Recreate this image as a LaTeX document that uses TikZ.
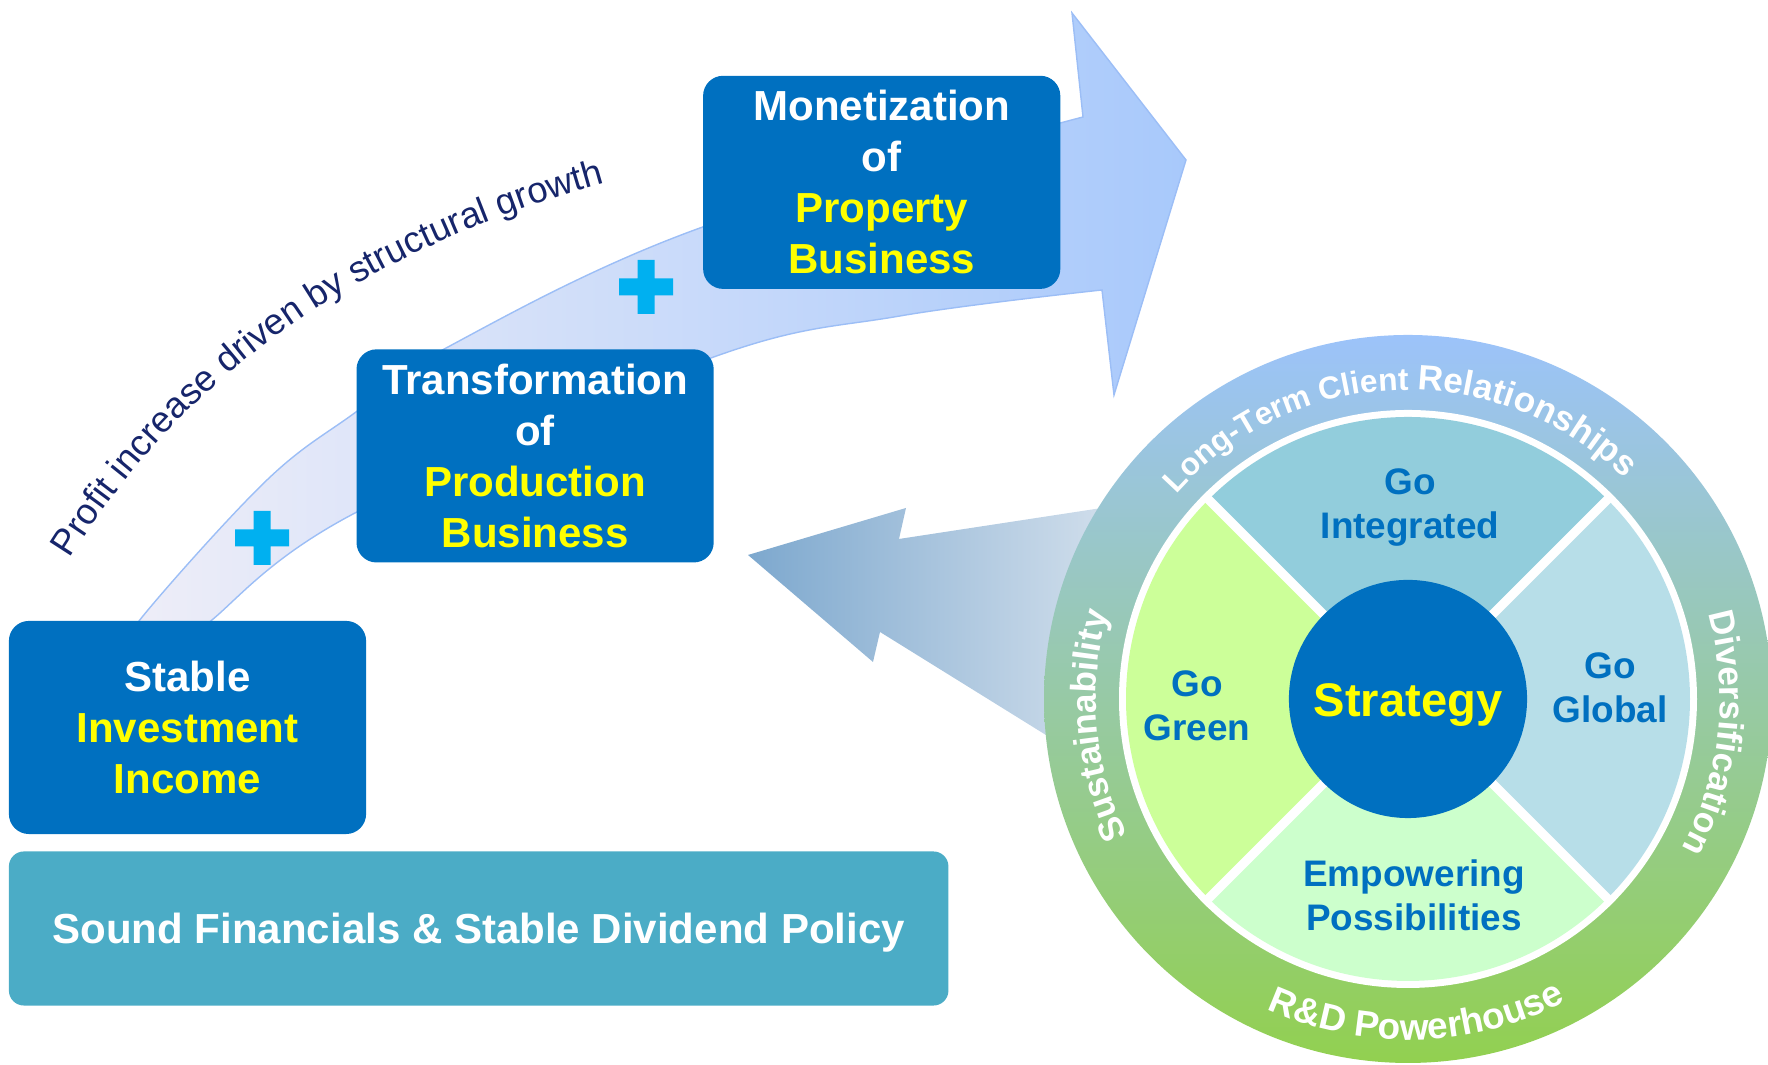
\documentclass[tikz,border=0pt]{standalone}
\usepackage{fontspec}
\setmainfont{Liberation Sans}
\usepackage{tikz}
\usetikzlibrary{positioning}
\usetikzlibrary{decorations.text}

\definecolor{boxblue}{HTML}{0070C0}
\definecolor{tealbox}{HTML}{4BACC6}
\definecolor{gold}{HTML}{FFFF00}
\definecolor{plusblue}{HTML}{00B0F0}
\definecolor{navy}{HTML}{16256B}
\definecolor{bandleft}{HTML}{EFEEF8}
\definecolor{bandright}{HTML}{A8C9FB}
\definecolor{bandedge}{HTML}{9CBEF6}
\definecolor{backleft}{HTML}{7DA8CE}
\definecolor{backright}{HTML}{E6ECF3}
\definecolor{ringtop}{HTML}{9CC3FA}
\definecolor{ringmid}{HTML}{96C6D8}
\definecolor{ringbot}{HTML}{92D050}
\definecolor{quadtop}{HTML}{92CDDC}
\definecolor{quadright}{HTML}{B7DEE8}
\definecolor{quadbot}{HTML}{CCFFCC}
\definecolor{quadleft}{HTML}{CCFF99}

\newcommand\boxfont{\bfseries\fontsize{11.95pt}{14.5pt}\selectfont}
\newcommand\quadfont{\bfseries\fontsize{10.5pt}{12.5pt}\selectfont}
\newcommand\stratfont{\bfseries\fontsize{13.4pt}{16pt}\selectfont}
\newcommand\ringfont{\bfseries\fontsize{10pt}{12pt}\selectfont}
\newcommand\profitfont{\fontsize{10.35pt}{13pt}\selectfont}

\begin{document}
\begin{tikzpicture}[x=0.01cm, y=0.01cm,
        box/.style={fill=boxblue, rounded corners=0.2cm, text=white, align=center,
            inner sep=0pt, minimum width=3.57cm, minimum height=2.13cm, font=\boxfont},
        quad/.style={text=boxblue, align=center, font=\quadfont},
        ringtext/.style={decorate, decoration={text along path, text align=center,
            text color=white, text={#1}}},
        plusmark/.pic={\fill[plusblue] (-27,-8.5) rectangle (27,8.5) (-8.5,-27) rectangle (8.5,27);}]
        \useasboundingbox (0,0) rectangle (1768,1065);
        \coordinate (hub) at (1408,366);

        \shadedraw[left color=bandleft, right color=bandright, draw=bandedge, line width=0.4pt]
            plot[smooth, tension=0.6] coordinates {(120,405) (143,449) (267,585) (356,653) (448,718) (700,837) (1083,948)}
            -- (1072,1052) -- (1186,905) -- (1114,670) -- (1102,775)
            -- plot[smooth, tension=0.6] coordinates {(1102,775) (900,749) (711,707) (355,552) (212,445) (190,415)}
            -- cycle;
        \shade[left color=backleft, right color=backright]
            (748,510) -- (906,557) -- (899,526) -- (1200,572) -- (1120,284) -- (880,433) -- (873,403) -- cycle;

        \node [box] (stable) at (187.5,337.5) {Stable\\\textcolor{gold}{Investment}\\\textcolor{gold}{Income}};
        \node [box] (trans) [above right=0.57cm and -0.11cm of stable] {Transformation\\of\\\textcolor{gold}{Production}\\\textcolor{gold}{Business}};
        \node [box] (monet) [above right=0.59cm and -0.12cm of trans] {Monetization\\of\\\textcolor{gold}{Property}\\\textcolor{gold}{Business}};
        \node [box, fill=tealbox, rounded corners=0.15cm, minimum width=9.39cm, minimum height=1.54cm, text depth=0pt] (sound)
            [below right=0.16cm and 0cm of stable.south west] {Sound Financials \& Stable Dividend Policy};

        \pic at (646,778) {plusmark};
        \pic at (262,527) {plusmark};

        \path[decorate, decoration={text along path, text color=navy,
            text={|\profitfont|Profit increase driven by structural growth}}]
            (70,506) .. controls (165,658) and (318,802) .. (605,882) -- (760,920);

        \shade[top color=ringtop, middle color=ringmid, bottom color=ringbot] (hub) circle[radius=364];
        \fill[white] (hub) circle[radius=289];
        \fill[quadtop] (hub) -- ++(45:282) arc[start angle=45, end angle=135, radius=282] -- cycle;
        \fill[quadleft] (hub) -- ++(135:282) arc[start angle=135, end angle=225, radius=282] -- cycle;
        \fill[quadbot] (hub) -- ++(225:282) arc[start angle=225, end angle=315, radius=282] -- cycle;
        \fill[quadright] (hub) -- ++(315:282) arc[start angle=315, end angle=405, radius=282] -- cycle;
        \foreach \a in {45,135,225,315}
            \draw[white, line width=2.6pt] (hub) -- ++(\a:289);
        \node [circle, fill=boxblue, minimum size=2.38cm, inner sep=0pt, text=gold, font=\stratfont,
            text height=0.36cm, text depth=0pt] (strategy) at (hub) {Strategy};

        \node [quad] (integ) at ([shift={(2,191)}]hub) {Go\\Integrated};
        \node [quad] (global) at ([shift={(202,11)}]hub) {Go\\Global};
        \node [quad] (green) at ([shift={(-211,-7)}]hub) {Go\\Green};
        \node [quad] (empow) at ([shift={(6,-196)}]hub) {Empowering\\Possibilities};

        \path[ringtext={|\bfseries\fontsize{9pt}{10pt}\selectfont|Long-Term Client |\bfseries\fontsize{10pt}{11pt}\selectfont|Relationships}]
            ([shift={(172:309)}]hub) arc[start angle=172, end angle=12, radius=309];
        \path[ringtext={|\ringfont|Sustainability}]
            ([shift={(245:312)}]hub) arc[start angle=245, end angle=125, radius=312];
        \path[ringtext={|\ringfont|Diversification}]
            ([shift={(53.6:312)}]hub) arc[start angle=53.6, end angle=-66.4, radius=312];
        \path[ringtext={|\bfseries\fontsize{10.5pt}{12pt}\selectfont|R{\&}D Powerhouse}]
            ([shift={(211.6:341)}]hub) arc[start angle=211.6, end angle=331.6, radius=341];
    \end{tikzpicture}
\end{document}
